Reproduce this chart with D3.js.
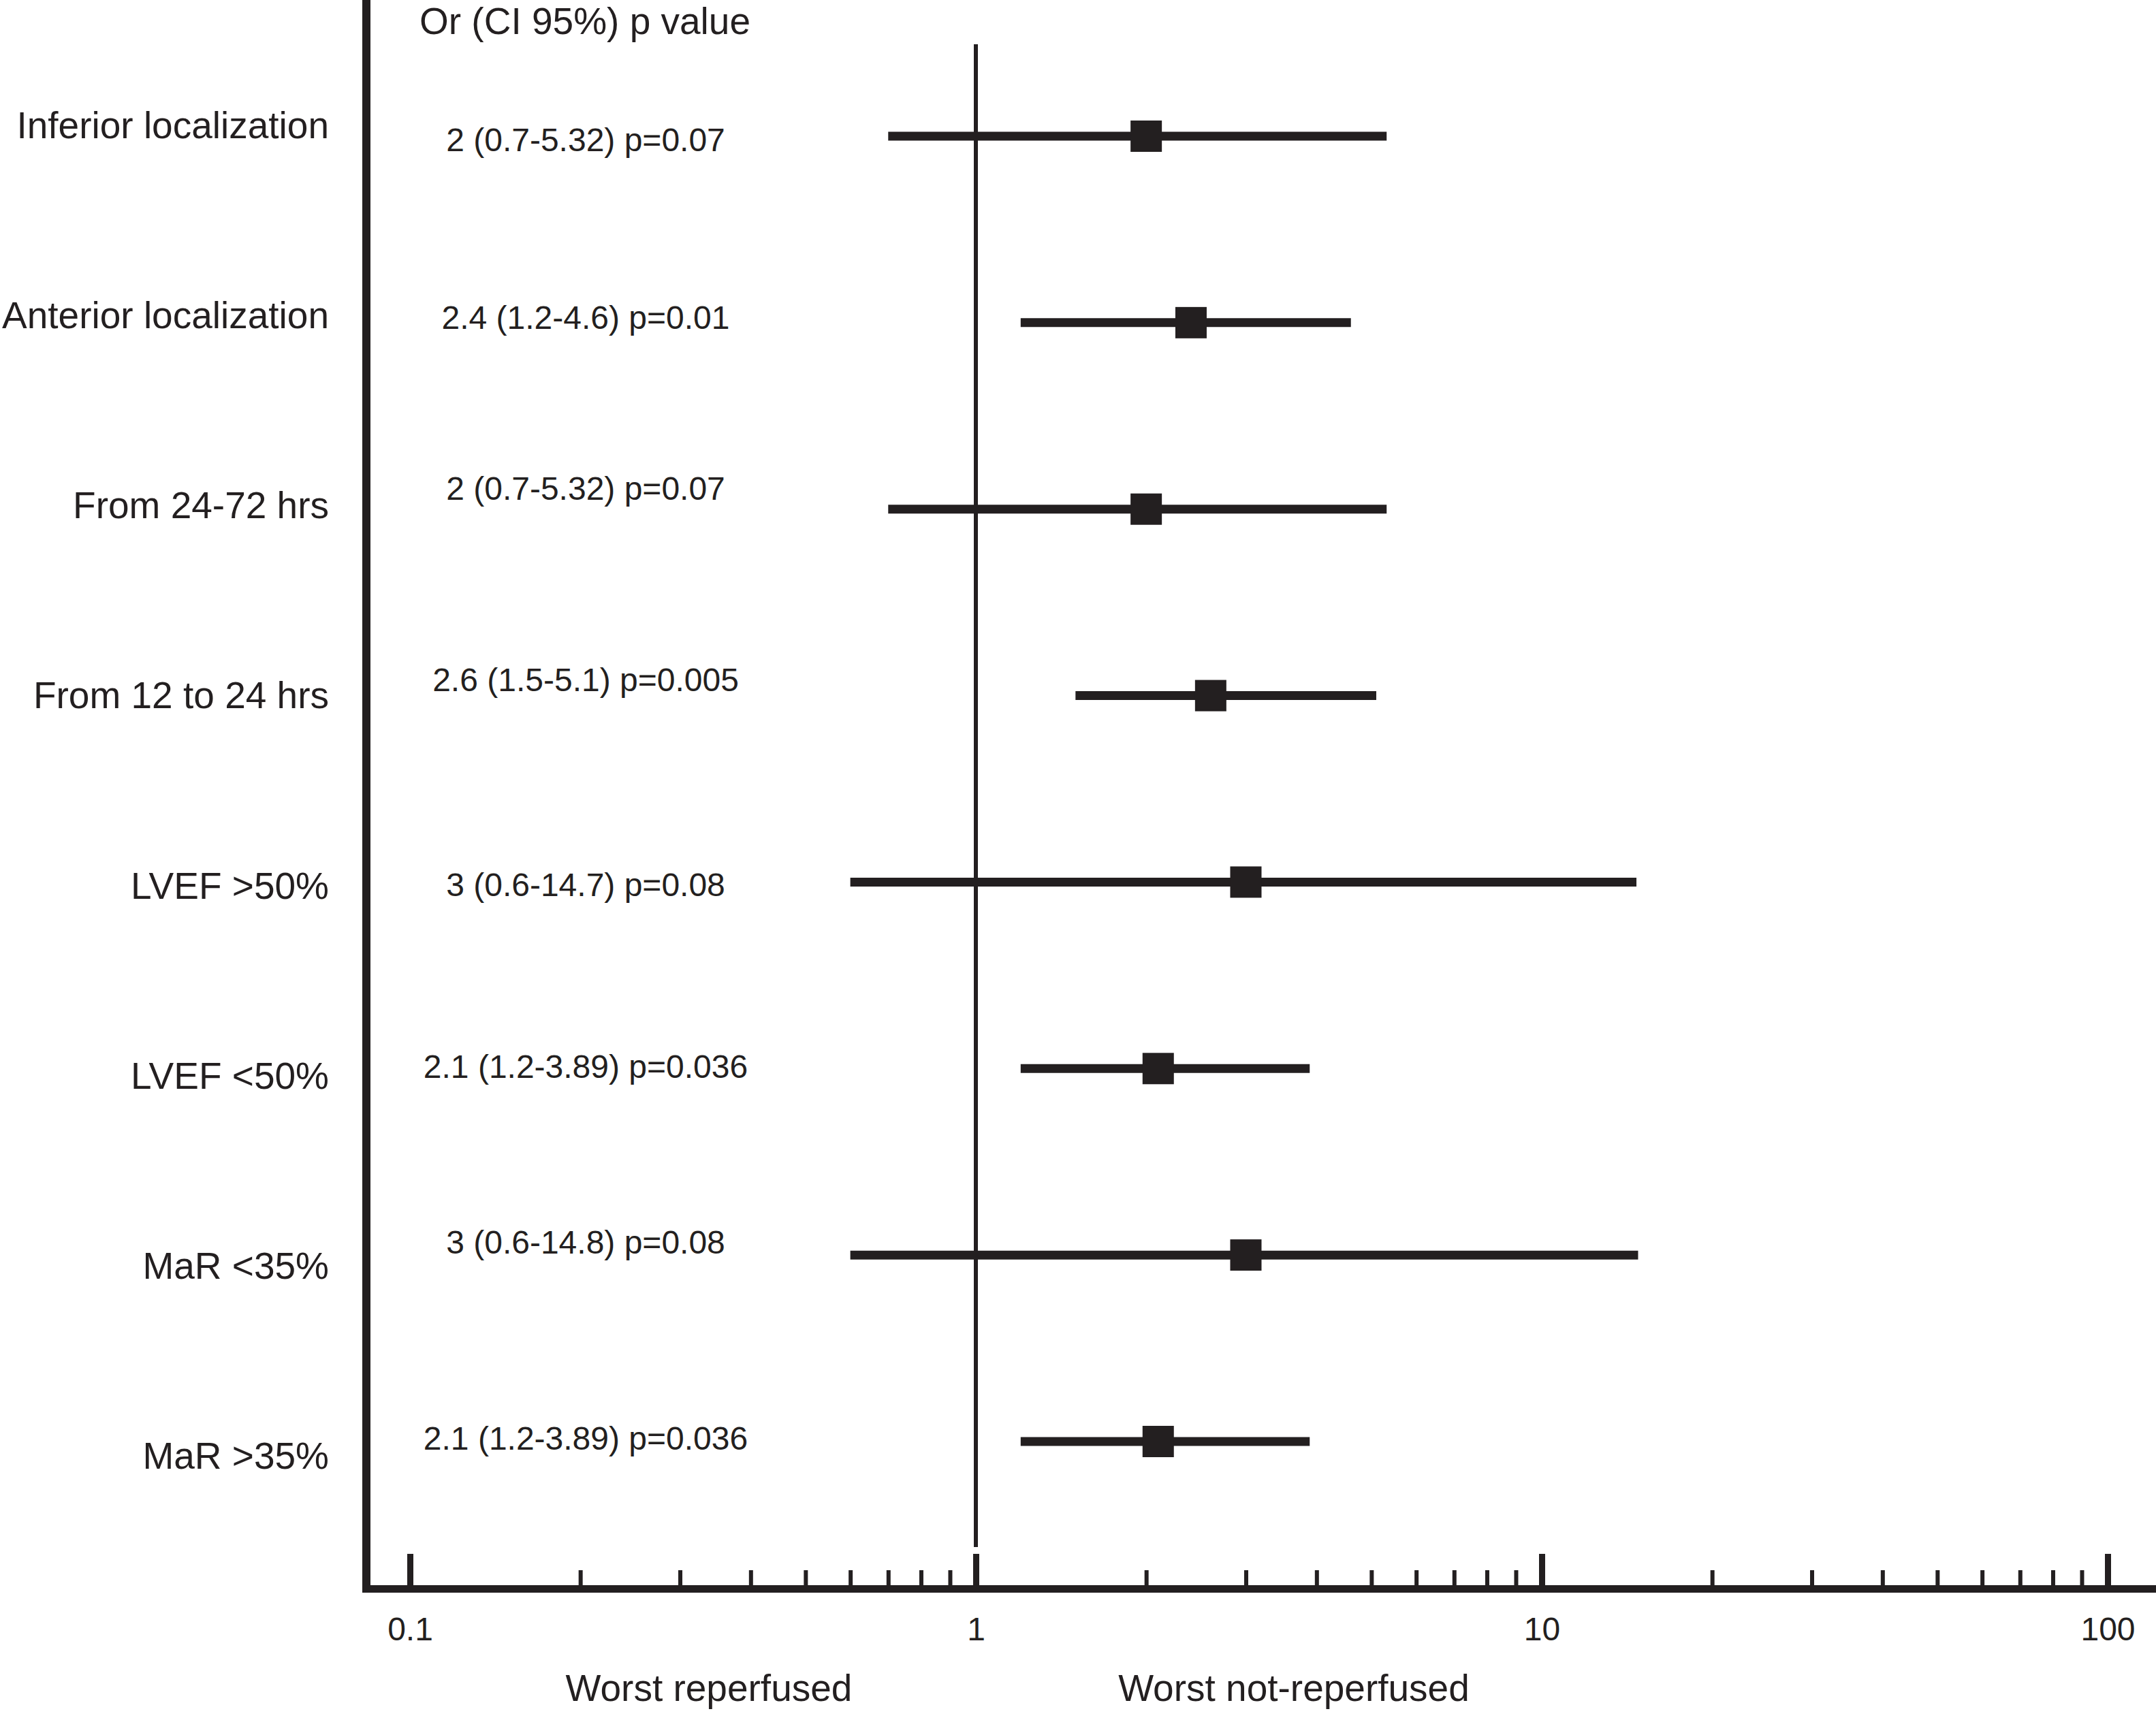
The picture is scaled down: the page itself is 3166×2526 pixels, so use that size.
<!DOCTYPE html>
<html>
<head>
<meta charset="utf-8">
<script src="https://cdn.jsdelivr.net/npm/d3@7"></script>
<style>
  html, body { margin: 0; padding: 0; background: #fff; }
  svg { display: block; }
  text { font-family: "Liberation Sans", Arial, Helvetica, sans-serif; fill: #231f20; }
</style>
</head>
<body>
<svg id="chart"></svg>
<script>
// data
const labels = [
  "Inferior localization",
  "Anterior localization",
  "From 24-72 hrs",
  "From 12 to 24 hrs",
  "LVEF >50%",
  "LVEF <50%",
  "MaR <35%",
  "MaR >35%"
];
const orValues = [2, 2.4, 2, 2.6, 3, 2.1, 3, 2.1];
const ciLow    = [0.7, 1.2, 0.7, 1.5, 0.6, 1.2, 0.6, 1.2];
const ciHigh   = [5.32, 4.6, 5.32, 5.1, 14.7, 3.89, 14.8, 3.89];
const pValues  = ["0.07", "0.01", "0.07", "0.005", "0.08", "0.036", "0.08", "0.036"];
const majorTicks = [0.1, 1, 10, 100];
const minorTicks = [0.2, 0.3, 0.4, 0.5, 0.6, 0.7, 0.8, 0.9,
                    2, 3, 4, 5, 6, 7, 8, 9,
                    20, 30, 40, 50, 60, 70, 80, 90];

const W = 3166, H = 2526;
const ink = "#231f20";

// layout
const axisY = 2333.5;
const leftX = 538;
// baseline of each value text relative to its bar (they wander a bit in the figure)
const textShift = [22, 9, -14, -7, 21, 14, -2, 12];

const svg = d3.select("#chart").attr("width", W).attr("height", H);

const x = d3.scaleLog().domain([0.1, 100]).range([602, 3095]);
const y = d3.scalePoint().domain(labels).range([200, 2117]);
const yLab = d3.scalePoint().domain(labels).range([203, 2157]);

const rows = labels.map((l, i) => ({
  label: l, or: orValues[i], lo: ciLow[i], hi: ciHigh[i], p: pValues[i], i
}));

// left frame line
svg.append("line")
  .attr("x1", leftX).attr("x2", leftX)
  .attr("y1", 0).attr("y2", axisY + 5.5)
  .attr("stroke", ink).attr("stroke-width", 12);

// bottom axis line
svg.append("line")
  .attr("x1", leftX - 6).attr("x2", W)
  .attr("y1", axisY).attr("y2", axisY)
  .attr("stroke", ink).attr("stroke-width", 11);

// minor ticks
const minorAxis = svg.append("g")
  .attr("transform", `translate(0,${axisY})`)
  .call(d3.axisBottom(x).tickValues(minorTicks).tickSize(-27.5).tickFormat(""));
minorAxis.select(".domain").remove();
minorAxis.selectAll(".tick line").attr("stroke", ink).attr("stroke-width", 6);

// major ticks + labels
const majorAxis = svg.append("g")
  .attr("transform", `translate(0,${axisY})`)
  .call(d3.axisBottom(x).tickValues(majorTicks).tickSize(-51.5).tickPadding(41.5)
    .tickFormat(d => String(d)));
majorAxis.select(".domain").remove();
majorAxis.selectAll(".tick line").attr("stroke", ink).attr("stroke-width", 9);
majorAxis.selectAll(".tick text")
  .attr("font-size", 48)
  .attr("fill", ink)
  .style("font-family", "'Liberation Sans', Arial, sans-serif");

// no-effect line at OR = 1
svg.append("line")
  .attr("x1", x(1)).attr("x2", x(1))
  .attr("y1", 65).attr("y2", 2272)
  .attr("stroke", ink).attr("stroke-width", 6);

// confidence intervals
svg.append("g").selectAll("line")
  .data(rows).join("line")
  .attr("x1", d => x(d.lo)).attr("x2", d => x(d.hi))
  .attr("y1", d => y(d.label)).attr("y2", d => y(d.label))
  .attr("stroke", ink).attr("stroke-width", 13);

// point estimates
const sq = 46;
svg.append("g").selectAll("rect")
  .data(rows).join("rect")
  .attr("x", d => x(d.or) - sq / 2)
  .attr("y", d => y(d.label) - sq / 2)
  .attr("width", sq).attr("height", sq)
  .attr("fill", ink);

// row labels
svg.append("g").selectAll("text")
  .data(rows).join("text")
  .attr("x", 483)
  .attr("y", d => yLab(d.label))
  .attr("text-anchor", "end")
  .attr("font-size", 55)
  .text(d => d.label);

// OR (CI) p texts
svg.append("g").selectAll("text")
  .data(rows).join("text")
  .attr("x", 860)
  .attr("y", d => y(d.label) + textShift[d.i])
  .attr("text-anchor", "middle")
  .attr("font-size", 48)
  .text(d => `${d.or} (${d.lo}-${d.hi}) p=${d.p}`);

// column header
svg.append("text")
  .attr("x", 859).attr("y", 50)
  .attr("text-anchor", "middle")
  .attr("font-size", 55)
  .text("Or (CI 95%) p value");

// direction captions
svg.append("text")
  .attr("x", 1041).attr("y", 2498)
  .attr("text-anchor", "middle")
  .attr("font-size", 55)
  .text("Worst reperfused");
svg.append("text")
  .attr("x", 1900).attr("y", 2498)
  .attr("text-anchor", "middle")
  .attr("font-size", 55)
  .text("Worst not-reperfused");
</script>
</body>
</html>
